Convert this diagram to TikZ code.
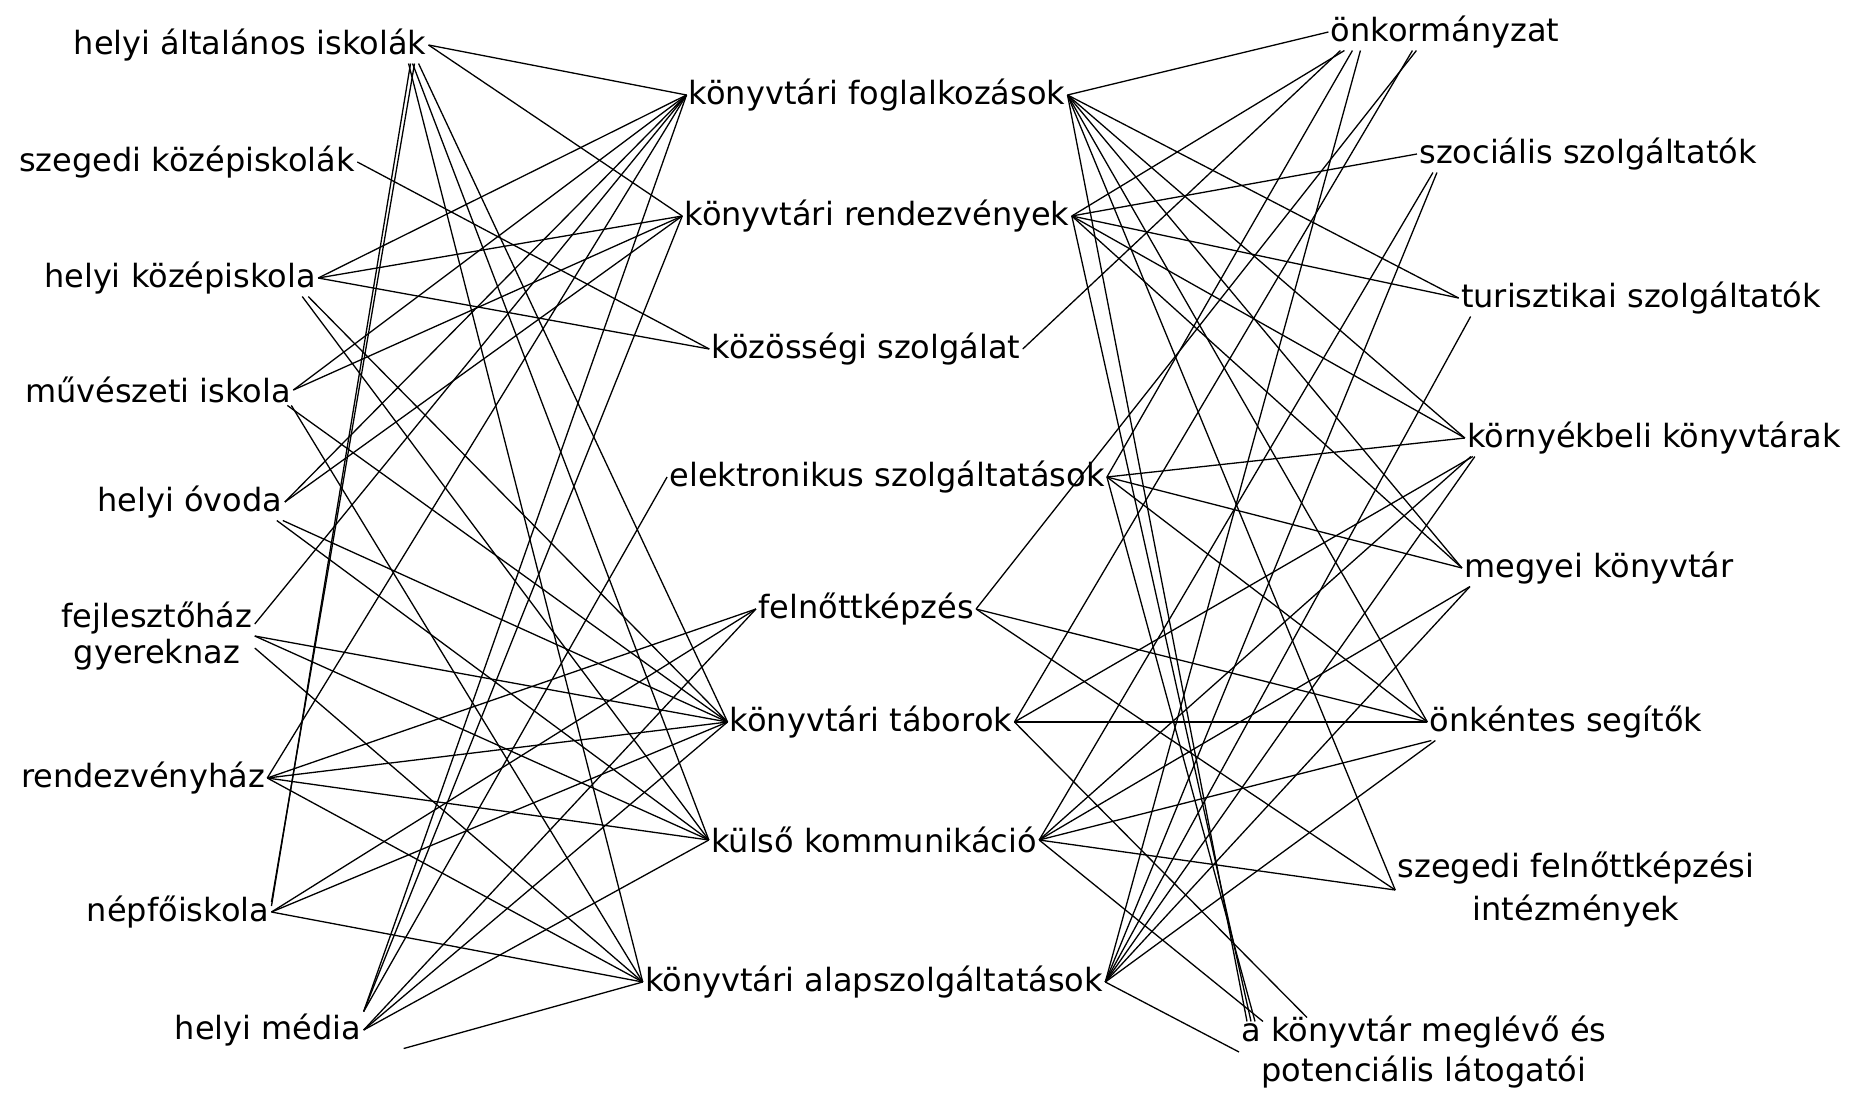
\documentclass[tikz,border=0pt]{standalone}
\usepackage{fontspec}
\setmainfont{DejaVu Sans}
\begin{document}
\begin{tikzpicture}[x=0.5pt,y=-0.5pt,
  lbl/.style={font=\fontsize{16}{20}\selectfont, inner sep=1pt, align=center},
  ln/.style={line width=0.65pt}]
\useasboundingbox (0,0) rectangle (1855,1097);
\fill[white] (0,0) rectangle (1855,1097);
% left column
\node[lbl] (hai) at (250,45) {helyi általános iskolák};
\node[lbl] (szk) at (187,162) {szegedi középiskolák};
\node[lbl] (hk) at (180,278) {helyi középiskola};
\node[lbl] (mi) at (158,390) {művészeti iskola};
\node[lbl] (ho) at (190,502) {helyi óvoda};
\node[lbl, font=\fontsize{16}{18}\selectfont] (fgy) at (157,636) {fejlesztőház\\gyereknaz};
\node[lbl] (rh) at (143,778) {rendezvényház};
\node[lbl] (np) at (178,912) {népfőiskola};
\node[lbl] (hm) at (268,1030) {helyi média};
% middle column
\node[lbl] (kf) at (877,95) {könyvtári foglalkozások};
\node[lbl] (kr) at (877,216) {könyvtári rendezvények};
\node[lbl] (ksz) at (866,349) {közösségi szolgálat};
\node[lbl] (es) at (887,477) {elektronikus szolgáltatások};
\node[lbl] (fk) at (866,609) {felnőttképzés};
\node[lbl] (kt) at (871,722) {könyvtári táborok};
\node[lbl] (kk) at (874,840) {külső kommunikáció};
\node[lbl] (ka) at (874,982) {könyvtári alapszolgáltatások};
% right column
\node[lbl] (ok) at (1445,32) {önkormányzat};
\node[lbl] (szoc) at (1588,154) {szociális szolgáltatók};
\node[lbl] (tur) at (1641,298) {turisztikai szolgáltatók};
\node[lbl] (korny) at (1654,438) {környékbeli könyvtárak};
\node[lbl] (megy) at (1599,568) {megyei könyvtár};
\node[lbl] (onk) at (1566,722) {önkéntes segítők};
\node[lbl, font=\fontsize{16}{21.5}\selectfont] (szf) at (1576,890) {szegedi felnőttképzési\\intézmények};
\node[lbl, font=\fontsize{16}{20}\selectfont] (alk) at (1424,1052) {a könyvtár meglévő és\\potenciális látogatói};

% ---- left -> middle
\draw[ln] (hai.east) -- (kf.west);
\draw[ln] (hai.east) -- (kr.west);
\draw[ln] ([xshift=-10pt]hai.south east) -- (ka.west);
\draw[ln] ([xshift=-8pt]hai.south east) -- (kk.west);
\draw[ln] ([xshift=-5pt]hai.south east) -- (kt.west);
\draw[ln] ([xshift=-9pt]hai.south east) -- ([yshift=3pt]np.east);
\draw[ln] ([xshift=-7pt]hai.south east) -- ([yshift=5pt]np.east);
\draw[ln] (szk.east) -- (ksz.west);
\draw[ln] (hk.east) -- (kf.west);
\draw[ln] (hk.east) -- (kr.west);
\draw[ln] (hk.east) -- (ksz.west);
\draw[ln] ([xshift=-8pt]hk.south east) -- (kk.west);
\draw[ln] ([xshift=-5pt]hk.south east) -- (kt.west);
\draw[ln] (mi.east) -- (kf.west);
\draw[ln] (mi.east) -- (kr.west);
\draw[ln] ([xshift=-3pt]mi.south east) -- (kt.west);
\draw[ln] ([xshift=-1pt]mi.south east) -- (ka.west);
\draw[ln] (ho.east) -- (kf.west);
\draw[ln] (ho.east) -- (kr.west);
\draw[ln] ([xshift=-4pt]ho.south east) -- (kk.west);
\draw[ln] ([xshift=-1pt]ho.south east) -- (kt.west);
\draw[ln] ([yshift=6pt]fgy.east) -- (kf.west);
\draw[ln] (fgy.east) -- (kt.west);
\draw[ln] (fgy.east) -- (kk.west);
\draw[ln] ([yshift=-6pt]fgy.east) -- (ka.west);
\draw[ln] (rh.east) -- (kf.west);
\draw[ln] (rh.east) -- (fk.west);
\draw[ln] (rh.east) -- (kt.west);
\draw[ln] (rh.east) -- (kk.west);
\draw[ln] (rh.east) -- (ka.west);
\draw[ln] (np.east) -- (fk.west);
\draw[ln] (np.east) -- (kt.west);
\draw[ln] (np.east) -- (ka.west);
\draw[ln] (hm.north east) -- (kf.west);
\draw[ln] (hm.north east) -- (kr.west);
\draw[ln] (hm.north east) -- (es.west);
\draw[ln] (hm.east) -- (fk.west);
\draw[ln] (hm.east) -- (kt.west);
\draw[ln] (hm.east) -- (kk.west);
\draw[ln] ([xshift=20pt]hm.south east) -- (ka.west);

% ---- middle -> right
\draw[ln] (kf.east) -- (ok.west);
\draw[ln] (kf.east) -- (tur.west);
\draw[ln] (kf.east) -- (korny.west);
\draw[ln] (kf.east) -- (megy.west);
\draw[ln] (kf.east) -- (onk.west);
\draw[ln] (kf.east) -- (szf.west);
\draw[ln] (kf.east) -- ([xshift=4pt,yshift=-4pt]alk.north west);
\draw[ln] (kr.east) -- ([xshift=8pt]ok.south west);
\draw[ln] (kr.east) -- (szoc.west);
\draw[ln] (kr.east) -- (tur.west);
\draw[ln] (kr.east) -- (korny.west);
\draw[ln] (kr.east) -- (megy.west);
\draw[ln] (kr.east) -- ([xshift=6pt,yshift=-4pt]alk.north west);
\draw[ln] (ksz.east) -- ([xshift=6pt]ok.south west);
\draw[ln] (es.east) -- ([xshift=12pt]ok.south west);
\draw[ln] (es.east) -- (korny.west);
\draw[ln] (es.east) -- (megy.west);
\draw[ln] (es.east) -- (onk.west);
\draw[ln] (es.east) -- ([xshift=8pt,yshift=-4pt]alk.north west);
\draw[ln] (fk.east) -- ([xshift=44pt]ok.south west);
\draw[ln] (fk.east) -- (onk.west);
\draw[ln] (fk.east) -- (szf.west);
\draw[ln] (kt.east) -- ([xshift=42pt]ok.south west);
\draw[ln] (kt.east) -- (onk.west);
\draw[ln] (kt.east) -- ([xshift=4pt]korny.south west);
\draw[ln] (kt.east) -- ([xshift=34pt,yshift=-2pt]alk.north west);
\draw[ln] (kk.east) -- ([xshift=8pt]szoc.south west);
\draw[ln] (kk.east) -- ([xshift=3pt]korny.south west);
\draw[ln] (kk.east) -- ([xshift=4pt]megy.south west);
\draw[ln] (kk.east) -- ([xshift=2pt]onk.south west);
\draw[ln] (kk.east) -- (szf.west);
\draw[ln] (kk.east) -- ([xshift=12pt,yshift=-4pt]alk.north west);
\draw[ln] (ka.east) -- ([xshift=16pt]ok.south west);
\draw[ln] (ka.east) -- ([xshift=10pt]szoc.south west);
\draw[ln] (ka.east) -- ([xshift=6pt]tur.south west);
\draw[ln] (ka.east) -- ([xshift=5pt]korny.south west);
\draw[ln] (ka.east) -- ([xshift=4pt]megy.south west);
\draw[ln] (ka.east) -- ([xshift=4pt]onk.south west);
\draw[ln] (ka.east) -- (alk.west);
\end{tikzpicture}
\end{document}
